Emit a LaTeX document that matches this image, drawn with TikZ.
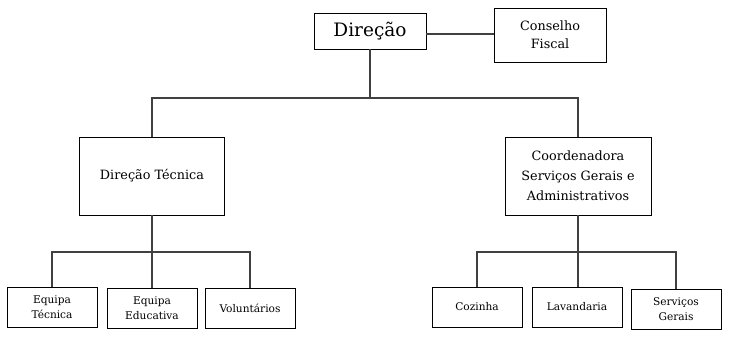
\documentclass[tikz,border=0pt]{standalone}
\usepackage{fontspec}
\setmainfont{DejaVu Serif}
\begin{document}
\begin{tikzpicture}[x=1pt,y=-1pt,
  box/.style={draw=black,line width=0.9pt,fill=white,align=center,inner sep=1pt},
  big/.style={box,font=\fontsize{18.5}{20}\selectfont},
  mid/.style={box,font=\fontsize{12.8}{20}\selectfont},
  small/.style={box,font=\fontsize{10.6}{15.5}\selectfont,minimum width=90pt,minimum height=40pt},
  conn/.style={draw=black!75,line width=1.2pt}]
\useasboundingbox (0,0) rectangle (730,337);
\node[big,minimum width=112pt,minimum height=36pt] (dir) at (370,31) {Direção};
\node[mid,minimum width=112pt,minimum height=54pt,font=\fontsize{12.8}{18}\selectfont] (cons) at (550,35) {Conselho\\Fiscal};
\node[mid,minimum width=145pt,minimum height=78pt] (dt) at (152,176) {Direção Técnica};
\node[mid,minimum width=146pt,minimum height=78pt] (coord) at (578,176) {Coordenadora\\Serviços Gerais e\\Administrativos};
\node[small] (et) at (52,307) {Equipa\\Técnica};
\node[small] (ee) at (152,308) {Equipa\\Educativa};
\node[small] (vol) at (250,308) {Voluntários};
\node[small] (coz) at (477,307) {Cozinha};
\node[small] (lav) at (577,307) {Lavandaria};
\node[small] (sg) at (676,309) {Serviços\\Gerais};
\coordinate (hc) at (0,34);
\coordinate (b1) at (0,98);
\coordinate (b2) at (0,252);
\draw[conn] (dir.east |- hc) -- (cons.west |- hc);
\draw[conn] (dir.south) -- (dir.south |- b1);
\draw[conn] (dt.north) -- (dt.north |- b1) -- (coord.north |- b1) -- (coord.north);
\draw[conn] (dt.south) -- (dt.south |- ee.north);
\draw[conn] (et.north) -- (et.north |- b2) -- (vol.north |- b2) -- (vol.north);
\draw[conn] (coord.south) -- (coord.south |- lav.north);
\draw[conn] (coz.north) -- (coz.north |- b2) -- (sg.north |- b2) -- (sg.north);
\end{tikzpicture}
\end{document}
